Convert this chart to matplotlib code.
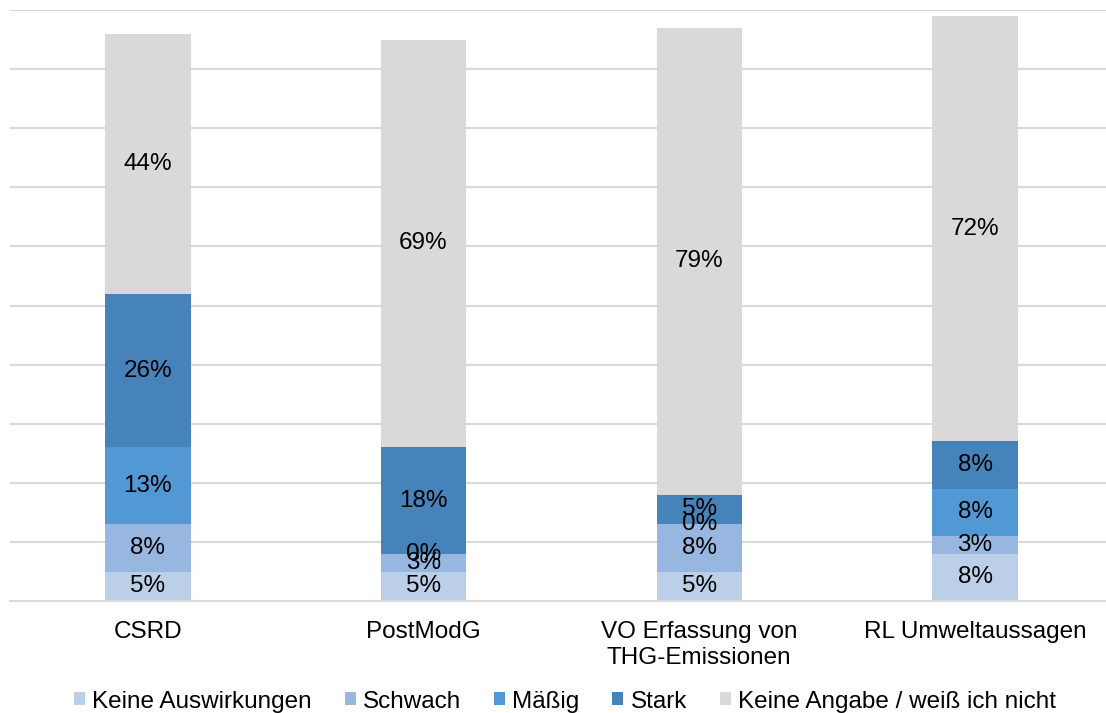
import matplotlib
matplotlib.use("Agg")
import matplotlib.pyplot as plt
import numpy as np

plt.rcParams['font.family'] = ['Liberation Sans', 'DejaVu Sans']

categories = ["CSRD", "PostModG", "VO Erfassung von\nTHG-Emissionen", "RL Umweltaussagen"]
series_names = ["Keine Auswirkungen", "Schwach", "Mäßig", "Stark", "Keine Angabe / weiß ich nicht"]
keine_auswirkungen = [5, 5, 5, 8]
schwach = [8, 3, 8, 3]
maessig = [13, 0, 0, 8]
stark = [26, 18, 5, 8]
keine_angabe = [44, 69, 79, 72]
colors = ["#BCCFE8", "#97B6E0", "#5298D4", "#4683BB", "#D9D9D9"]

series = [keine_auswirkungen, schwach, maessig, stark, keine_angabe]

fig = plt.figure(figsize=(11.06, 7.13), dpi=100)
ax = fig.add_axes([0.009, 0.157, 0.991, 0.829])

x = np.arange(len(categories))
bottom = np.zeros(len(categories))
for name, vals, col in zip(series_names, series, colors):
    v = np.array(vals, dtype=float) / 100.0
    ax.bar(x, v, width=0.31, bottom=bottom, color=col, label=name, zorder=2)
    for xi, b, h, raw in zip(x, bottom, v, vals):
        ax.text(xi, b + h / 2, f"{raw}%", ha="center", va="center",
                fontsize=17.5, color="black", zorder=3)
    bottom += v

ax.set_ylim(0, 1.0)
ax.set_xlim(-0.5, 3.475)
ax.set_yticks(np.arange(0, 1.01, 0.1))
ax.set_yticklabels([])
ax.tick_params(axis="y", length=0)
ax.yaxis.grid(True, color="#D9D9D9", linewidth=1.5, zorder=0)
ax.set_axisbelow(True)
ax.set_xticks(x)
ax.set_xticklabels(categories, fontsize=17.5, linespacing=1.25)
ax.tick_params(axis="x", length=0, pad=14)
for s in ["top", "right", "left"]:
    ax.spines[s].set_visible(False)
ax.spines["bottom"].set_color("#D9D9D9")
ax.spines["bottom"].set_linewidth(1.5)

fig.legend(loc="lower center", bbox_to_anchor=(0.511, -0.03), ncol=5,
           frameon=False, fontsize=17.5, handlelength=0.45, handleheight=0.45,
           handletextpad=0.3, columnspacing=1.35)

fig.savefig("out.png", dpi=100)
